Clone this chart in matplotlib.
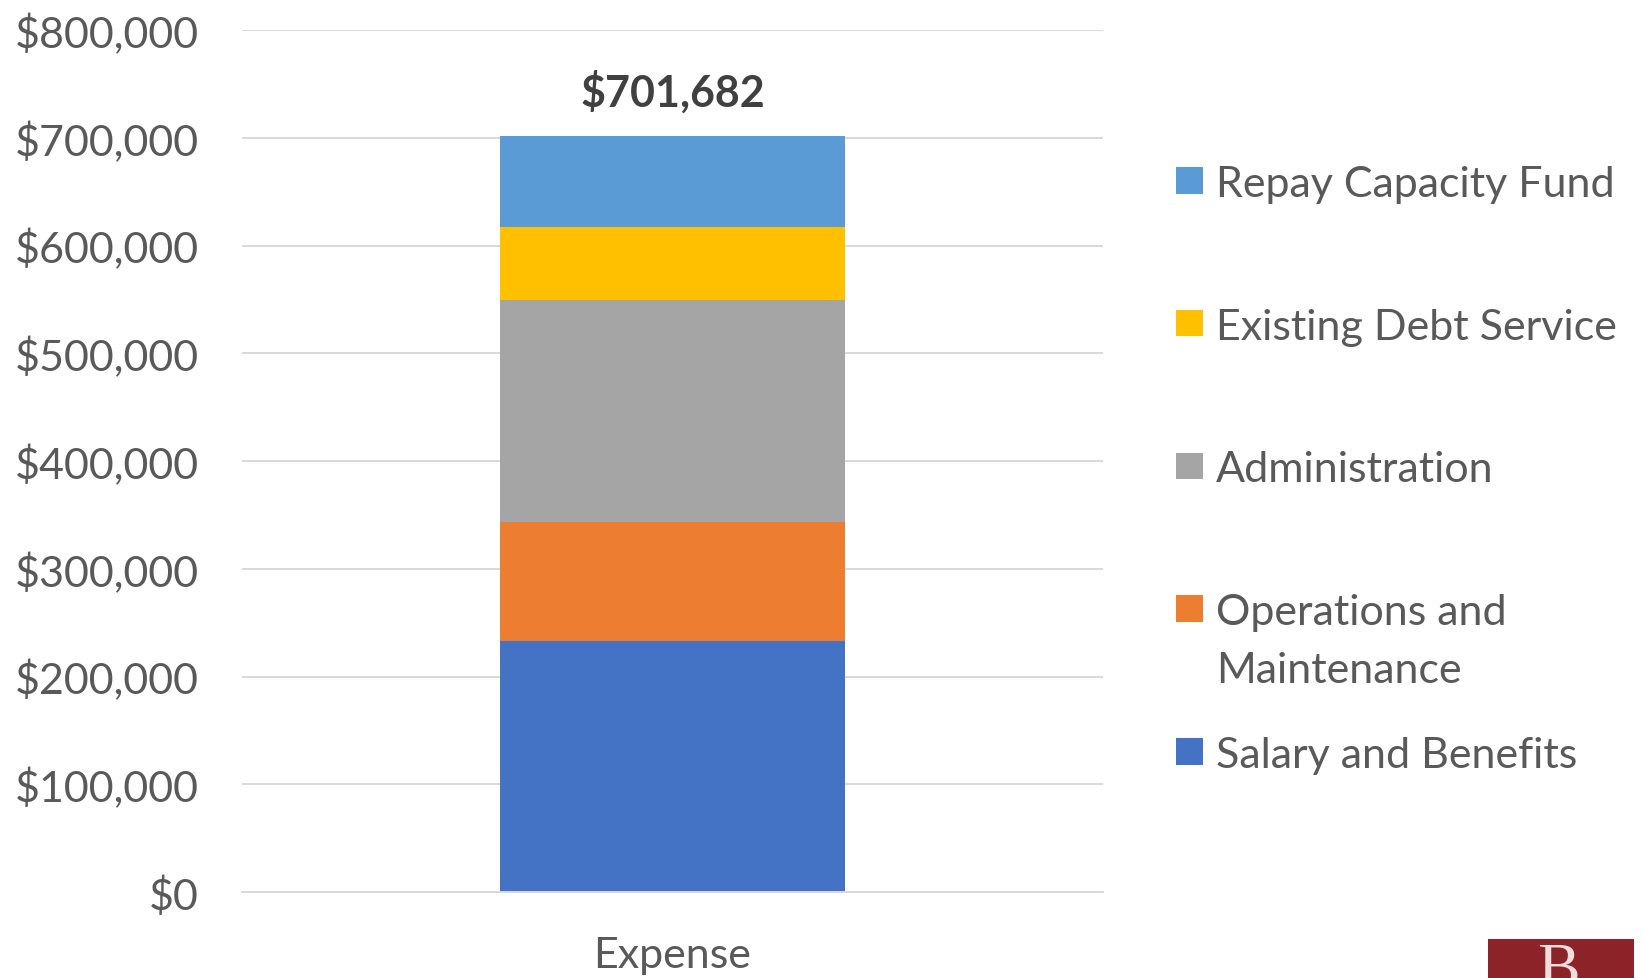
import numpy as np
import matplotlib.pyplot as plt
from matplotlib.patches import Rectangle
from matplotlib.ticker import FuncFormatter

# Expense breakdown, bottom to top of the stack
categories = ['Salary and Benefits', 'Operations and\nMaintenance',
              'Administration', 'Existing Debt Service', 'Repay Capacity Fund']
values = [233100, 110400, 205900, 67900, 84382]
colors = ['#4472C4', '#ED7D31', '#A5A5A5', '#FFC000', '#5B9BD5']
bar_label = 'Expense'
yticks = np.arange(0, 800001, 100000)

plt.rcParams['font.family'] = ['Lato', 'DejaVu Sans']
text_color = '#595959'
fs = 31

fig = plt.figure(figsize=(16.43, 9.79), dpi=100)
ax = fig.add_axes([0.1473, 0.0878, 0.524, 0.8805])

# Stacked bar
bottom = 0
for val, col in zip(values, colors):
    ax.bar(0, val, width=0.4, bottom=bottom, color=col, zorder=3)
    bottom += val

total = sum(values)
ax.annotate('${:,.0f}'.format(total), xy=(0, total), xytext=(0, 22),
            textcoords='offset points', ha='center', va='baseline',
            fontsize=fs, fontweight='bold', color='#404040')

# Axes formatting
ax.set_xlim(-0.5, 0.5)
ax.set_ylim(0, 800000)
ax.set_yticks(yticks)
ax.yaxis.set_major_formatter(FuncFormatter(lambda v, p: '${:,.0f}'.format(v)))
ax.set_xticks([0])
ax.set_xticklabels([bar_label])
ax.grid(axis='y', color='#D9D9D9', linewidth=1.4, zorder=0)
ax.tick_params(axis='y', length=0, pad=31, labelsize=fs, labelcolor=text_color)
ax.tick_params(axis='x', length=0, pad=32, labelsize=fs, labelcolor=text_color)
for side in ['top', 'right', 'left']:
    ax.spines[side].set_visible(False)
ax.spines['bottom'].set_color('#D9D9D9')
ax.spines['bottom'].set_linewidth(1.4)
ax.spines['bottom'].set_zorder(4)

# Legend drawn by hand, top entry first
W, H = fig.get_size_inches() * fig.dpi
y_first = 181.3
step = 142.75
line_step = 58
sq = 26.5
for i, (name, col) in enumerate(zip(categories[::-1], colors[::-1])):
    yc = y_first + i * step
    fig.patches.append(Rectangle((1176 / W, 1 - (yc + sq / 2) / H), sq / W, sq / H,
                                 transform=fig.transFigure, facecolor=col,
                                 edgecolor='none'))
    for j, line in enumerate(name.split('\n')):
        fig.text(1216 / W, 1 - (yc + 15.5 + j * line_step) / H, line,
                 fontsize=fs, color=text_color, ha='left', va='baseline')

# Corner logo
fig.patches.append(Rectangle((1488 / W, 0), 146 / W, 39 / H,
                             transform=fig.transFigure, facecolor='#8B2328',
                             edgecolor='none'))
fig.text(1558 / W, -8 / H, 'B', family='Liberation Serif', fontsize=46,
         color='#F2DCDC', ha='center', va='baseline')

fig.savefig('out.png', dpi=100)
